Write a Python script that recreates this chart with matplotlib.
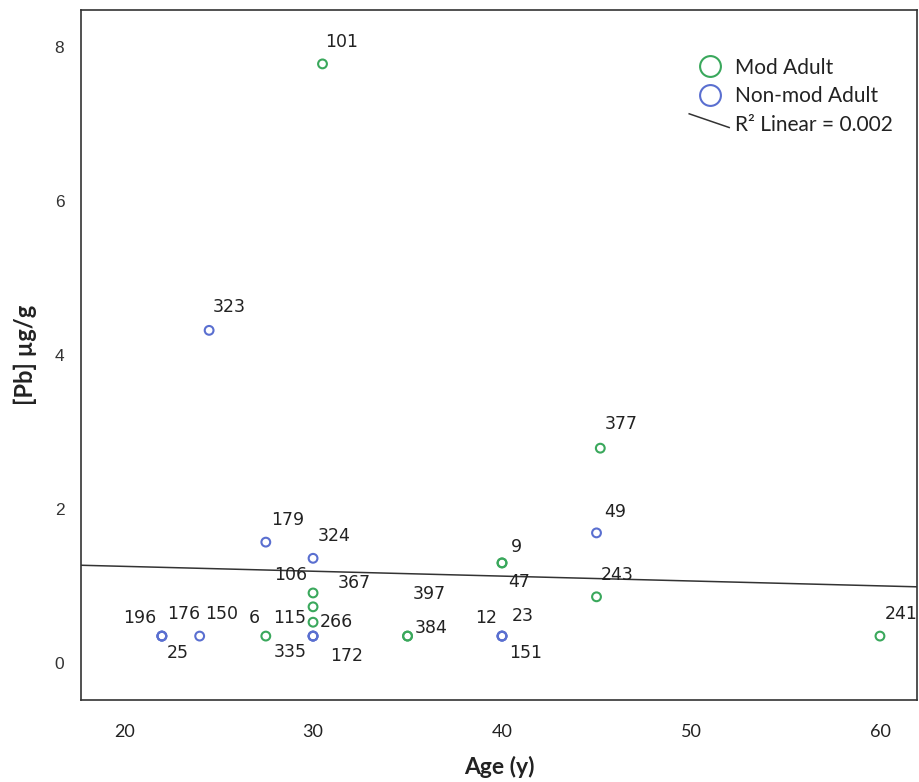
import matplotlib
matplotlib.use("Agg")
import matplotlib.pyplot as plt
from matplotlib.lines import Line2D
from matplotlib.legend_handler import HandlerBase

# ---------------- data ----------------
mod_age = [30.5, 45.2, 40, 40, 45, 60, 30, 30, 30, 27.5, 35, 35]
mod_pb = [7.78, 2.79, 1.30, 1.30, 0.86, 0.35, 0.91, 0.73, 0.53, 0.35, 0.35, 0.35]
mod_id = ["101", "377", "9", "47", "243", "241", "106", "367", "266", "6", "384", "397"]

nonmod_age = [24.5, 27.5, 30, 45, 22, 22, 22, 24, 30, 30, 30, 40, 40, 40]
nonmod_pb = [4.32, 1.57, 1.36, 1.69, 0.35, 0.35, 0.35, 0.35, 0.35, 0.35, 0.35, 0.35, 0.35, 0.35]
nonmod_id = ["323", "179", "324", "49", "196", "25", "176", "150", "115", "335", "172", "12", "23", "151"]

fit_intercept = 1.382
fit_slope = -0.00633
r2_text = "R\u00b2 Linear = 0.002"

x_ticks = [20, 30, 40, 50, 60]
y_ticks = [0, 2, 4, 6, 8]

# label placement (pixel offsets, alignment) -- layout only
label_offsets = {
    "101": (3, 22, "left"), "377": (4, 24, "left"), "9": (9, 16, "left"),
    "47": (6, -19, "left"), "243": (4, 22, "left"), "241": (5, 22, "left"),
    "106": (-6, 18, "right"), "367": (25, 24, "left"), "266": (7, 0, "left"),
    "6": (-6, 18, "right"), "384": (7, 8, "left"), "397": (5, 42, "left"),
    "323": (4, 23, "left"), "179": (5, 22, "left"), "324": (5, 22, "left"),
    "49": (8, 21, "left"), "196": (-6, 18, "right"), "25": (5, -17, "left"),
    "176": (5, 22, "left"), "150": (5, 22, "left"), "115": (-7, 18, "right"),
    "335": (-6, -16, "right"), "172": (17, -20, "left"), "12": (-5, 18, "right"),
    "23": (10, 20, "left"), "151": (7, -17, "left"),
}

GREEN = "#3aa85c"
BLUE = "#5a6fd0"

fig = plt.figure(figsize=(9.2, 7.82), dpi=100)
ax = fig.add_axes([81 / 920, (782 - 700) / 782, (917 - 81) / 920, 690 / 782])

ax.set_xlim(17.72, 61.96)
ax.set_ylim(-0.48, 8.48)

# fit line
xl = ax.get_xlim()
ax.plot(list(xl), [fit_intercept + fit_slope * xl[0], fit_intercept + fit_slope * xl[1]],
        color="#333333", lw=1.1, zorder=2)

ax.scatter(mod_age, mod_pb, s=40, facecolors="none", edgecolors=GREEN, linewidths=1.5, zorder=3)
ax.scatter(nonmod_age, nonmod_pb, s=40, facecolors="none", edgecolors=BLUE, linewidths=1.5, zorder=3)

for xs, ys, ids in ((mod_age, mod_pb, mod_id), (nonmod_age, nonmod_pb, nonmod_id)):
    for x, y, t in zip(xs, ys, ids):
        dx, dy, ha = label_offsets[t]
        ax.annotate(t, (x, y), xytext=(dx, dy), textcoords="offset pixels",
                    ha=ha, va="center", fontsize=12.5, family="DejaVu Sans",
                    color="#222222", zorder=4)

ax.set_xticks(x_ticks)
ax.set_yticks(y_ticks)
ax.tick_params(axis="both", length=0)
ax.tick_params(axis="x", pad=17, labelsize=13)
ax.tick_params(axis="y", pad=12, labelsize=12.5)
for lab in ax.get_xticklabels():
    lab.set_family("Lato")
    lab.set_color("#222222")
for lab in ax.get_yticklabels():
    lab.set_family("Liberation Sans")
    lab.set_color("#333333")

ax.set_xlabel("Age (y)", family="Lato", fontweight="bold", fontsize=16.5, labelpad=12, color="#222222")
ax.set_ylabel("[Pb] \u00b5g/g", family="Lato", fontweight="bold", fontsize=17, labelpad=13, color="#222222")

for sp in ax.spines.values():
    sp.set_color("#333333")
    sp.set_linewidth(1.2)


class SlantHandler(HandlerBase):
    def create_artists(self, legend, orig_handle, xdescent, ydescent, width, height, fontsize, trans):
        x0 = -xdescent - 0.35 * width
        x1 = -xdescent + width * 1.25
        line = Line2D([x0, x1], [height * 1.19 - ydescent, height * 0.25 - ydescent])
        line.set_color(orig_handle.get_color())
        line.set_linewidth(orig_handle.get_linewidth())
        line.set_transform(trans)
        return [line]


h_mod = Line2D([], [], ls="none", marker="o", markersize=15, markerfacecolor="none",
               markeredgecolor=GREEN, markeredgewidth=1.5)
h_non = Line2D([], [], ls="none", marker="o", markersize=15, markerfacecolor="none",
               markeredgecolor=BLUE, markeredgewidth=1.5)
h_fit = Line2D([], [], color="#333333", lw=1.1)

leg = ax.legend([h_mod, h_non, h_fit], ["Mod Adult", "Non-mod Adult", r2_text],
                handler_map={h_fit: SlantHandler()},
                loc="upper left", bbox_to_anchor=(0.728, 0.943), frameon=False,
                prop={"family": "Lato", "size": 15}, handlelength=1.2,
                handletextpad=0.6, labelspacing=0.42, borderaxespad=0)
for t in leg.get_texts():
    t.set_color("#222222")

fig.savefig("out.png", dpi=100)
